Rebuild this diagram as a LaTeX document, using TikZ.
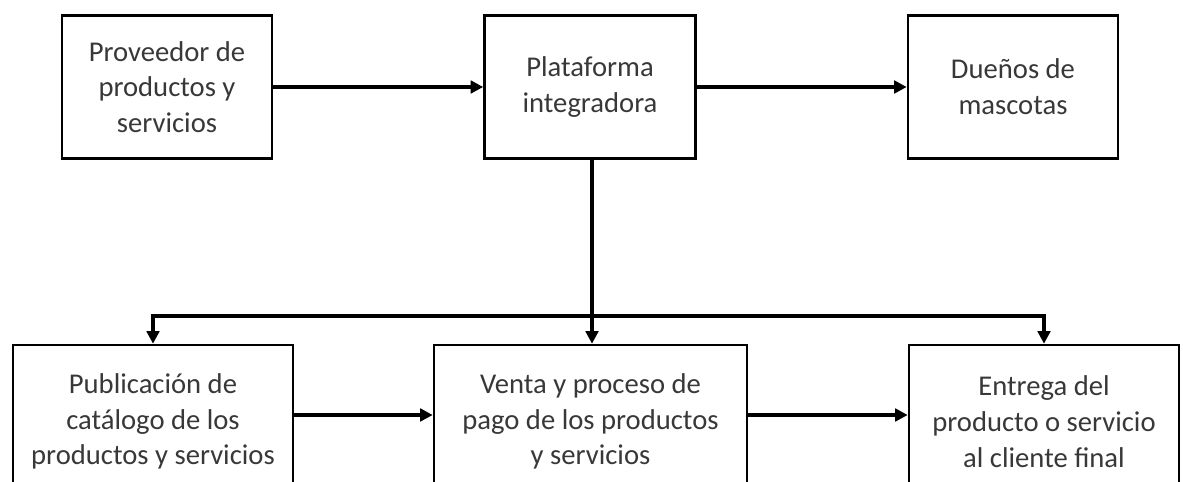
\documentclass[tikz,border=0pt]{standalone}
\usepackage{fontspec}
\setmainfont{Carlito}
\usepackage{tikz}
\usetikzlibrary{arrows.meta}
\colorlet{boxtext}{black!78}

\begin{document}
\begin{tikzpicture}[x=0.02cm, y=-0.02cm,
    caja/.style={draw, line width=1.5pt, align=center, text=boxtext,
        minimum height=2.86cm, inner sep=0pt,
        font=\fontsize{16.3}{20.3}\selectfont},
    flecha/.style={line width=2pt, -{Triangle[length=0.25cm, width=0.25cm]}}]
        \clip (0,0) rectangle (1183,482);
        % fila superior
        \node[caja, minimum width=4.2cm] (prov) at (167,87) {Proveedor de\\productos y\\servicios};
        \node[caja, minimum width=4.22cm] (plat) at (590,87) {Plataforma\\integradora};
        \node[caja, minimum width=4.2cm] (duenos) at (1013,87) {Dueños de\\mascotas};
        % fila inferior
        \node[caja, minimum height=3.06cm, minimum width=5.6cm] (publ) at (153,421.5) {Publicación de\\catálogo de los\\productos y servicios};
        \node[caja, minimum height=3.06cm, minimum width=6.26cm] (venta) at (590.5,421.5) {Venta y proceso de\\pago de los productos\\y servicios};
        \node[caja, minimum height=3.06cm, minimum width=5.4cm] (entrega) at (1044,421.5) {Entrega del\\producto o servicio\\al cliente final};
        \coordinate (bus) at (592,316);
        \draw[flecha] (prov) -- (plat);
        \draw[flecha] (plat) -- (duenos);
        \draw[flecha] (plat.south -| bus) -- (bus) -- (venta.north -| bus);
        \foreach \destino in {publ,entrega}{
            \draw[flecha] (bus) -| (\destino.north);
        }
        \draw[flecha] (publ.east |- 0,415) -- (venta.west |- 0,415);
        \draw[flecha] (venta.east |- 0,415) -- (entrega.west |- 0,415);
\end{tikzpicture}
\end{document}
